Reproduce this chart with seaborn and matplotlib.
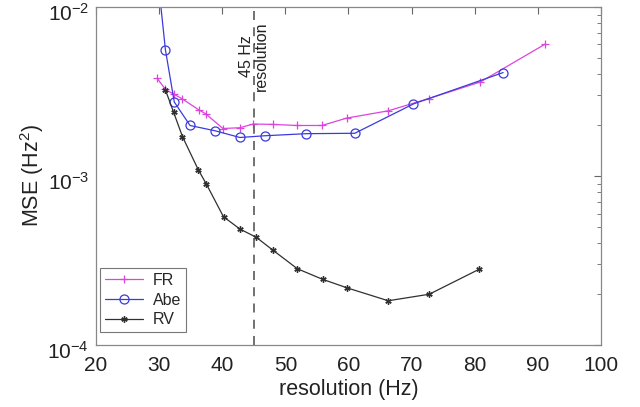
import matplotlib
matplotlib.use("Agg")
import matplotlib.pyplot as plt
import matplotlib.transforms as mtransforms
import seaborn as sns
import numpy as np
import pandas as pd
from matplotlib.ticker import LogLocator, NullFormatter

# ---- data ----
fr_x = [29.7, 31.0, 32.3, 33.6, 36.3, 37.4, 40.1, 42.8, 44.9, 48.0, 51.8, 55.8, 59.7, 66.3, 72.7, 80.9, 91.2]
fr_y = [3.78e-3, 3.25e-3, 3.05e-3, 2.87e-3, 2.46e-3, 2.33e-3, 1.91e-3, 1.93e-3, 2.03e-3, 2.02e-3,
        1.99e-3, 1.99e-3, 2.20e-3, 2.43e-3, 2.87e-3, 3.60e-3, 6.04e-3]

abe_x = [29.5, 31.0, 32.4, 34.9, 38.9, 42.8, 46.7, 53.3, 61.0, 70.3, 84.5]
abe_y = [1.9e-2, 5.57e-3, 2.74e-3, 1.99e-3, 1.85e-3, 1.69e-3, 1.73e-3, 1.78e-3, 1.79e-3, 2.67e-3, 4.09e-3]

rv_x = [31.0, 32.3, 33.7, 36.2, 37.5, 40.2, 42.8, 45.4, 48.0, 51.9, 55.9, 59.8, 66.3, 72.8, 80.7]
rv_y = [3.23e-3, 2.38e-3, 1.71e-3, 1.09e-3, 8.94e-4, 5.74e-4, 4.86e-4, 4.34e-4, 3.65e-4, 2.83e-4,
        2.45e-4, 2.18e-4, 1.83e-4, 2.00e-4, 2.81e-4]

x_ticks = [20, 30, 40, 50, 60, 70, 80, 90, 100]
y_ticks = [1e-4, 1e-3, 1e-2]
ref_line = 45

# ---- style ----
sns.set_style("white")
plt.rcParams['font.family'] = ['Liberation Sans', 'DejaVu Sans']
plt.rcParams['mathtext.fontset'] = 'custom'
plt.rcParams['mathtext.rm'] = 'Liberation Sans'
plt.rcParams['mathtext.it'] = 'Liberation Sans:italic'

fig = plt.figure(figsize=(6.4, 4.07), dpi=100)
ax = fig.add_axes([0.15, 0.152, 0.789, 0.831])

FR_C, ABE_C, RV_C = '#dd44dd', '#3b3bdd', '#303030'
sns.lineplot(x=fr_x, y=fr_y, ax=ax, color=FR_C, marker='+', markersize=6,
             markeredgecolor=FR_C, markeredgewidth=0.9, linewidth=0.9, label='FR', sort=False)
sns.lineplot(x=abe_x, y=abe_y, ax=ax, color=ABE_C, marker='o', markersize=6.5,
             markerfacecolor='none', markeredgecolor=ABE_C, markeredgewidth=0.9,
             linewidth=0.9, label='Abe', sort=False)
sns.lineplot(x=rv_x, y=rv_y, ax=ax, color=RV_C, marker=(6, 2, 0), markersize=4.5,
             markeredgecolor=RV_C, markeredgewidth=1.0, linewidth=0.9, label='RV', sort=False)

ax.axvline(ref_line, color='#666666', linestyle=(0, (5, 4)), linewidth=1.3)
ax.text(ref_line, 5.1e-3, '45 Hz\nresolution', rotation=90, ha='center', va='center',
        multialignment='center', fontsize=11.5, color='#222222', linespacing=0.95)

ax.set_yscale('log')
ax.set_xlim(20, 100)
ax.set_ylim(1e-4, 1e-2)
ax.set_xticks(x_ticks)
ax.set_yticks(y_ticks)
ax.yaxis.set_minor_locator(LogLocator(base=10, subs=np.arange(2, 10)))
ax.yaxis.set_minor_formatter(NullFormatter())

ax.tick_params(axis='both', which='both', direction='in', top=True, right=True,
               colors='#666666', labelcolor='#222222', labelsize=15)
ax.tick_params(which='major', length=5, width=0.8)
ax.tick_params(which='minor', length=3, width=0.6)
ax.tick_params(axis='x', pad=8)
ax.tick_params(axis='y', pad=5)
for s in ax.spines.values():
    s.set_color('#888888')
    s.set_linewidth(0.9)

# shift y tick labels slightly downward, as in the reference
off = mtransforms.ScaledTranslation(0, -5 / 100, fig.dpi_scale_trans)
for lab in ax.get_yticklabels():
    lab.set_transform(lab.get_transform() + off)

ax.set_xlabel('resolution (Hz)', fontsize=15.5, color='#222222', labelpad=3)
ax.set_ylabel('MSE (Hz$^2$)', fontsize=15.5, color='#222222', labelpad=1)

leg = ax.legend(loc='lower left', fontsize=11.5, frameon=True, fancybox=False,
                handlelength=2.4, borderpad=0.3, labelspacing=0.3, handletextpad=0.6,
                borderaxespad=0, bbox_to_anchor=(0.008, 0.038))
leg.get_frame().set_edgecolor('#555555')
leg.get_frame().set_linewidth(0.8)

fig.savefig('out.png', dpi=100, facecolor='white')
